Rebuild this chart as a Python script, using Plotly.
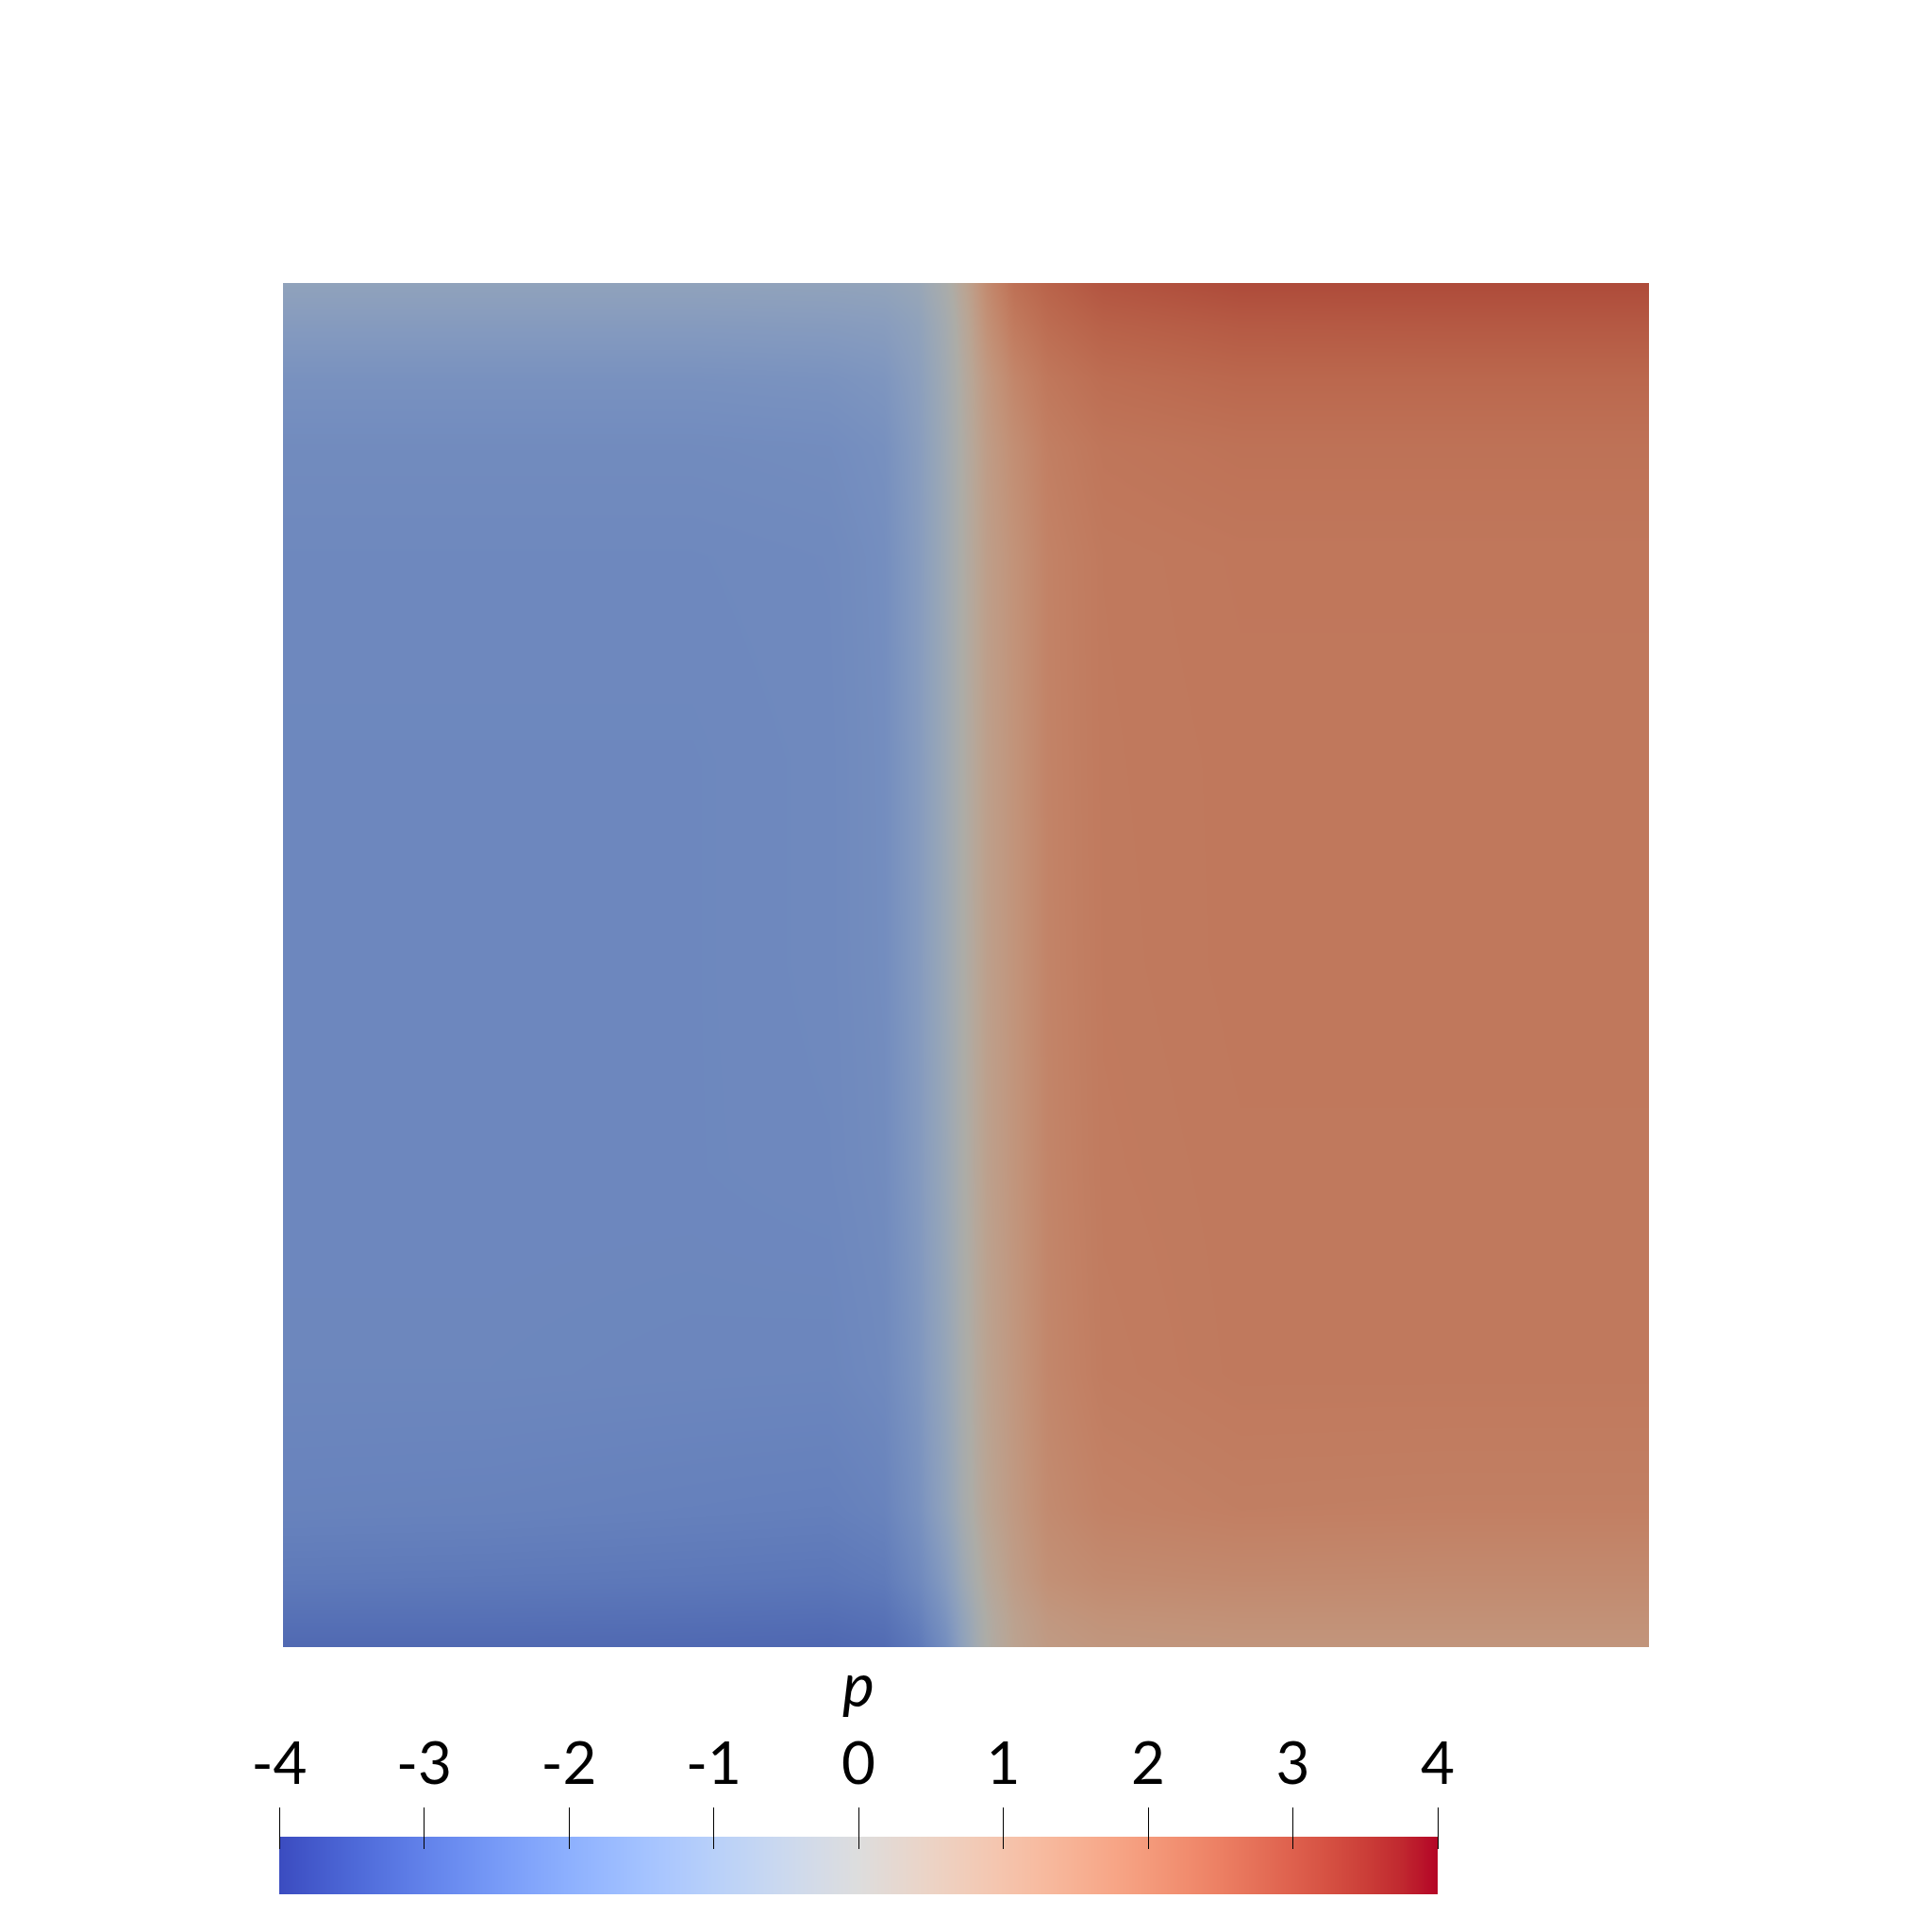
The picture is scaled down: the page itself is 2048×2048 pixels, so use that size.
import plotly.graph_objects as go

# ---------------- data ----------------
X_POS = [0.0, 0.15, 0.3, 0.4, 0.44, 0.465, 0.485, 0.50, 0.515, 0.535, 0.56, 0.6, 0.7, 0.85, 1.0]
Y_POS = [0.0, 0.02, 0.05, 0.1, 0.2, 0.35, 0.5, 0.65, 0.8, 0.88, 0.93, 0.97, 1.0]

P_Y000 = [-2.90, -2.90, -2.92, -2.95, -2.85, -2.50, -1.85, -0.90, 0.00, 0.60, 0.95, 1.10, 1.15, 1.15, 1.15]
P_Y002 = [-2.72, -2.72, -2.75, -2.78, -2.68, -2.30, -1.65, -0.80, 0.05, 0.65, 1.05, 1.22, 1.28, 1.28, 1.28]
P_Y005 = [-2.45, -2.47, -2.50, -2.53, -2.42, -2.00, -1.35, -0.50, 0.25, 0.85, 1.30, 1.48, 1.53, 1.50, 1.50]
P_Y010 = [-2.20, -2.22, -2.27, -2.30, -2.18, -1.72, -1.00, -0.20, 0.50, 1.00, 1.48, 1.72, 1.82, 1.80, 1.80]
P_Y020 = [-2.07, -2.07, -2.09, -2.10, -1.98, -1.55, -0.85, -0.08, 0.60, 1.08, 1.60, 1.88, 1.97, 1.97, 1.97]
P_Y035 = [-2.05, -2.05, -2.05, -2.02, -1.90, -1.42, -0.72, 0.02, 0.70, 1.15, 1.65, 1.92, 1.98, 1.98, 1.98]
P_Y050 = [-2.05, -2.05, -2.05, -2.00, -1.86, -1.37, -0.66, 0.07, 0.74, 1.18, 1.68, 1.94, 2.00, 2.00, 2.00]
P_Y065 = [-2.05, -2.05, -2.05, -2.00, -1.85, -1.35, -0.63, 0.10, 0.76, 1.20, 1.70, 1.95, 2.00, 2.00, 2.00]
P_Y080 = [-2.02, -2.02, -2.02, -1.98, -1.82, -1.32, -0.60, 0.13, 0.80, 1.24, 1.72, 1.96, 2.02, 2.02, 2.02]
P_Y088 = [-1.92, -1.92, -1.92, -1.88, -1.74, -1.28, -0.57, 0.17, 0.88, 1.38, 1.82, 2.06, 2.15, 2.15, 2.15]
P_Y093 = [-1.70, -1.70, -1.70, -1.66, -1.55, -1.17, -0.50, 0.27, 1.02, 1.62, 2.02, 2.27, 2.40, 2.40, 2.40]
P_Y097 = [-1.35, -1.35, -1.35, -1.32, -1.26, -1.00, -0.38, 0.42, 1.30, 1.95, 2.30, 2.55, 2.70, 2.72, 2.72]
P_Y100 = [-1.00, -1.00, -1.00, -0.97, -0.92, -0.75, -0.20, 0.60, 1.50, 2.20, 2.50, 2.80, 3.00, 3.00, 3.00]

P_GRID = [P_Y000, P_Y002, P_Y005, P_Y010, P_Y020, P_Y035, P_Y050,
          P_Y065, P_Y080, P_Y088, P_Y093, P_Y097, P_Y100]

P_RANGE = [-4, 4]
CBAR_TICKS = [-4, -3, -2, -1, 0, 1, 2, 3, 4]
CBAR_TITLE = "p"

# ---------------- colour map (Cool to Warm) ----------------
COOLWARM = [
    (59, 76, 192), (68, 90, 204), (77, 104, 215), (87, 117, 225), (98, 130, 234),
    (108, 142, 241), (119, 154, 247), (130, 165, 251), (141, 176, 254), (152, 185, 255),
    (163, 194, 255), (174, 201, 253), (184, 208, 249), (194, 213, 244), (204, 217, 238),
    (213, 219, 230), (221, 221, 221), (229, 216, 209), (236, 211, 197), (241, 204, 185),
    (245, 196, 173), (247, 187, 160), (247, 177, 148), (247, 166, 135), (244, 154, 123),
    (241, 141, 111), (236, 127, 99), (229, 112, 88), (222, 96, 77), (213, 80, 66),
    (203, 62, 56), (192, 40, 47), (180, 4, 38),
]
SHADE = (0.785, 0.78, 0.75)  # lighting on the rendered surface

n = len(COOLWARM) - 1
bar_scale = [[i / n, "rgb(%d,%d,%d)" % c] for i, c in enumerate(COOLWARM)]
field_scale = [[i / n, "rgb(%d,%d,%d)" % tuple(round(v * s) for v, s in zip(c, SHADE))]
               for i, c in enumerate(COOLWARM)]

W = H = 2048
OFF = 8  # page offset of the figure inside the browser
def px_x(p):
    return (p - OFF) / W
def px_y(p):
    return 1 - (p - OFF) / H

fig = go.Figure()

# main field
fig.add_trace(go.Heatmap(
    x=X_POS, y=Y_POS, z=P_GRID,
    colorscale=field_scale, zmin=P_RANGE[0], zmax=P_RANGE[1],
    zsmooth="best", showscale=False, hoverinfo="skip",
    xaxis="x", yaxis="y",
))

# colour bar drawn as a gradient heatmap
fig.add_trace(go.Heatmap(
    x=P_RANGE, y=[0, 1], z=[P_RANGE, P_RANGE],
    colorscale=bar_scale, zmin=P_RANGE[0], zmax=P_RANGE[1],
    zsmooth="best", showscale=False, hoverinfo="skip",
    xaxis="x2", yaxis="y2",
))

FONT = "Lato"

fig.update_layout(
    width=W, height=H,
    margin=dict(l=0, r=0, t=0, b=0, autoexpand=False),
    paper_bgcolor="white", plot_bgcolor="white",
    showlegend=False,
    xaxis=dict(domain=[px_x(300), px_x(1748)], range=[0, 1], visible=False, fixedrange=True),
    yaxis=dict(domain=[px_y(1746), px_y(300)], range=[0, 1], visible=False, fixedrange=True),
    xaxis2=dict(
        domain=[px_x(296), px_x(1524)], range=P_RANGE,
        anchor="free", position=px_y(1960), side="top",
        tickmode="array", tickvals=CBAR_TICKS, ticktext=[str(t) for t in CBAR_TICKS],
        ticks="outside", ticklen=44, tickwidth=1, tickcolor="black",
        showgrid=False, zeroline=False, showline=False, automargin=False,
        tickfont=dict(family=FONT, size=62, color="black"),
        ticklabelstandoff=0,
    ),
    yaxis2=dict(domain=[px_y(2008), px_y(1947)], range=[0, 1], visible=False),
    annotations=[dict(
        text="<i>%s</i>" % CBAR_TITLE, xref="x2", yref="paper",
        x=0, y=px_y(1784), xanchor="center", yanchor="middle",
        showarrow=False, font=dict(family=FONT, size=64, color="black"),
    )],
)

fig.write_html("out.html")
